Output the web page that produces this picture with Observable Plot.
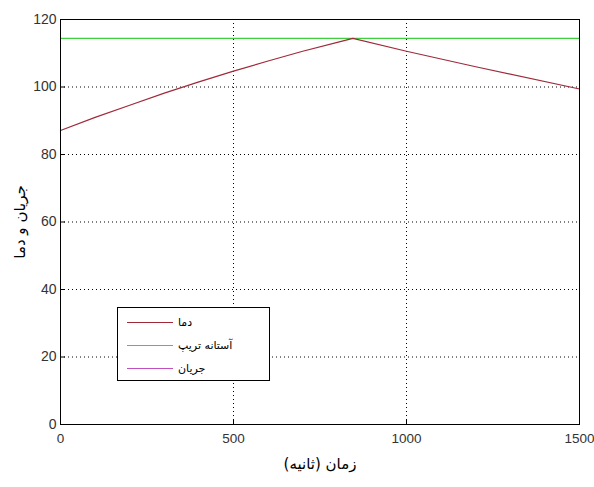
<!DOCTYPE html>
<html><head><meta charset="utf-8">
<script src="https://cdn.jsdelivr.net/npm/d3@7"></script>
<script src="https://cdn.jsdelivr.net/npm/@observablehq/plot@0.6"></script>
<style>
body{margin:0;background:#fff;}
#wrap{position:relative;width:594px;height:487px;}
#legend{position:absolute;left:117px;top:307px;width:153px;height:74px;border:1px solid #000;background:#fff;box-sizing:border-box;font-family:"DejaVu Sans",sans-serif;font-size:11px;}
.row{position:absolute;left:9px;height:14px;display:flex;align-items:center;}
.row span.l{display:inline-block;width:46px;height:0;border-top:1px solid;margin-right:5px;}
</style></head>
<body><div id="wrap"></div>
<script>
const tempT = [0, 100, 200, 300, 400, 500, 600, 700, 800, 845, 1000, 1200, 1500];
const tempV = [87.1, 91.0, 94.6, 98.2, 101.5, 104.7, 107.7, 110.6, 113.2, 114.4, 110.6, 106.0, 99.4];
const threshT = [0, 1500];
const threshV = [114.4, 114.4];
const currentT = [];
const currentV = [];
const xTicks = [0, 500, 1000, 1500];
const yTicks = [0, 20, 40, 60, 80, 100, 120];
const seriesNames = ["دما", "آستانه تریپ", "جریان"];
const seriesColors = ["#a02a3a", "#3fcf3f", "#c050c0"];
const xLabel = "زمان (ثانیه)";
const yLabel = "جریان و دما";

const temp = tempT.map((t,i)=>({t, v: tempV[i]}));
const thresh = threshT.map((t,i)=>({t, v: threshV[i]}));
const current = currentT.map((t,i)=>({t, v: currentV[i]}));

const chart = Plot.plot({
  width: 594, height: 487,
  marginLeft: 60, marginRight: 15, marginTop: 19, marginBottom: 63,
  style: {fontFamily: "Arial, 'Liberation Sans', sans-serif", fontSize: "14px", color: "#000", background: "#fff"},
  x: {domain: [0, 1500]},
  y: {domain: [0, 120]},
  marks: [
    Plot.ruleX(xTicks.slice(1, -1), {stroke: "#000", strokeDasharray: "1,3", strokeWidth: 1}),
    Plot.ruleY(yTicks.slice(1, -1), {stroke: "#000", strokeDasharray: "1,3", strokeWidth: 1}),
    Plot.line(thresh, {x: "t", y: "v", stroke: seriesColors[1], strokeWidth: 1.2}),
    Plot.line(current, {x: "t", y: "v", stroke: seriesColors[2], strokeWidth: 1.2}),
    Plot.line(temp, {x: "t", y: "v", stroke: seriesColors[0], strokeWidth: 1.2}),
    Plot.axisX(xTicks, {tickSize: -5, tickPadding: 14, tickFormat: d3.format("d"), label: null, stroke: "#000", fill: "#333", fontSize: 13.5}),
    Plot.axisY(yTicks, {tickSize: -5, tickPadding: 9, tickFormat: d3.format("d"), label: null, stroke: "#000", fill: "#333", fontSize: 14}),
    Plot.frame({stroke: "#000"}),
    Plot.text([xLabel], {frameAnchor: "bottom", dy: 44, fontFamily: "DejaVu Sans", fontSize: 15}),
    Plot.text([yLabel], {frameAnchor: "left", textAnchor: "middle", dx: -40, rotate: -90, fontFamily: "DejaVu Sans", fontSize: 15})
  ]
});
const wrap = document.getElementById("wrap");
wrap.appendChild(chart);

const lg = document.createElement("div");
lg.id = "legend";
seriesNames.forEach((n,i)=>{
  const r = document.createElement("div");
  r.className = "row";
  r.style.top = (7 + i*23) + "px";
  r.innerHTML = `<span class="l" style="border-color:${seriesColors[i]}"></span><span>${n}</span>`;
  lg.appendChild(r);
});
wrap.appendChild(lg);
</script></body></html>
